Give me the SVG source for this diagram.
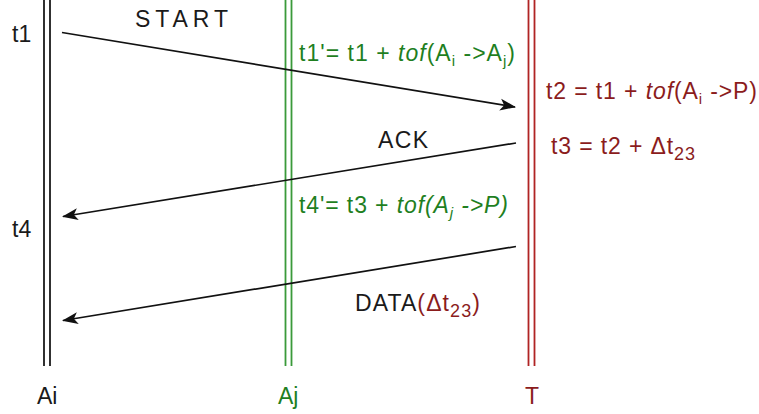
<svg xmlns="http://www.w3.org/2000/svg" width="759" height="414" viewBox="0 0 759 414">
<style>
  text { font-family: "Liberation Sans", "DejaVu Sans", sans-serif; font-size: 23px; }
  .blk { fill: #1a1a1a; }
  .grn { fill: #1f7f1f; }
  .red { fill: #8b1c1c; }
  .lb { stroke: #1a1a1a; stroke-width: 1.8; fill: none; }
  .lg { stroke: #3a9a3a; stroke-width: 1.8; fill: none; }
  .lr { stroke: #b02424; stroke-width: 1.8; fill: none; }
  .msg { stroke: #111; stroke-width: 1.7; fill: none; marker-end: url(#arr); }
  .it { font-style: italic; }
  .sub { font-size: 15px; }
  .sub2 { font-size: 18px; }
</style>
<defs>
  <marker id="arr" markerUnits="userSpaceOnUse" markerWidth="18" markerHeight="14" refX="15" refY="6" orient="auto" viewBox="0 0 18 12">
    <path d="M0,0 L16,6 L0,12 L4,6 z" fill="#111"/>
  </marker>
</defs>

<g id="node-Ai">
  <line class="lb" x1="44" y1="0" x2="44" y2="366"/>
  <line class="lb" x1="50" y1="0" x2="50" y2="366"/>
  <text class="blk" x="37" y="404">Ai</text>
  <text class="blk" x="12" y="42">t1</text>
  <text class="blk" x="12" y="237">t4</text>
</g>

<g id="node-Aj">
  <line class="lg" x1="285.5" y1="0" x2="285.5" y2="366"/>
  <line class="lg" x1="291.5" y1="0" x2="291.5" y2="366"/>
  <text class="grn" x="278" y="404">Aj</text>
  <text class="grn" x="299" y="61" textLength="216" lengthAdjust="spacing">t1'= t1 + <tspan class="it">tof</tspan>(A<tspan class="sub" dy="5">i</tspan><tspan dy="-5"> -&gt;A</tspan><tspan class="sub" dy="5">j</tspan><tspan dy="-5">)</tspan></text>
  <text class="grn" x="299" y="213" textLength="209" lengthAdjust="spacing">t4'= t3 + <tspan class="it">tof(A</tspan><tspan class="sub it" dy="5">j</tspan><tspan class="it" dy="-5"> -&gt;P)</tspan></text>
</g>

<g id="node-T">
  <line class="lr" x1="528.5" y1="0" x2="528.5" y2="366"/>
  <line class="lr" x1="534.5" y1="0" x2="534.5" y2="366"/>
  <text class="red" x="525" y="404">T</text>
  <text class="red" x="546" y="99" textLength="211" lengthAdjust="spacing">t2 = t1 + <tspan class="it">tof</tspan>(A<tspan class="sub" dy="5">i</tspan><tspan dy="-5"> -&gt;P)</tspan></text>
  <text class="red" x="551" y="154" textLength="144" lengthAdjust="spacing">t3 = t2 + Δt<tspan class="sub2" dy="6">23</tspan></text>
</g>

<g id="connectors">
  <line class="msg" x1="62" y1="32.5" x2="515" y2="107"/>
  <line class="msg" x1="516" y1="143" x2="63" y2="216.5"/>
  <line class="msg" x1="516" y1="246.5" x2="63" y2="320.5"/>
</g>

<g id="labels">
  <text class="blk" x="135" y="27" textLength="93" lengthAdjust="spacing">START</text>
  <text class="blk" x="378" y="148" textLength="50" lengthAdjust="spacing">ACK</text>
  <text class="blk" x="355" y="311" textLength="125" lengthAdjust="spacing">DATA<tspan class="red">(Δt</tspan><tspan class="red sub2" dy="6">23</tspan><tspan class="red" dy="-6">)</tspan></text>
</g>
</svg>
